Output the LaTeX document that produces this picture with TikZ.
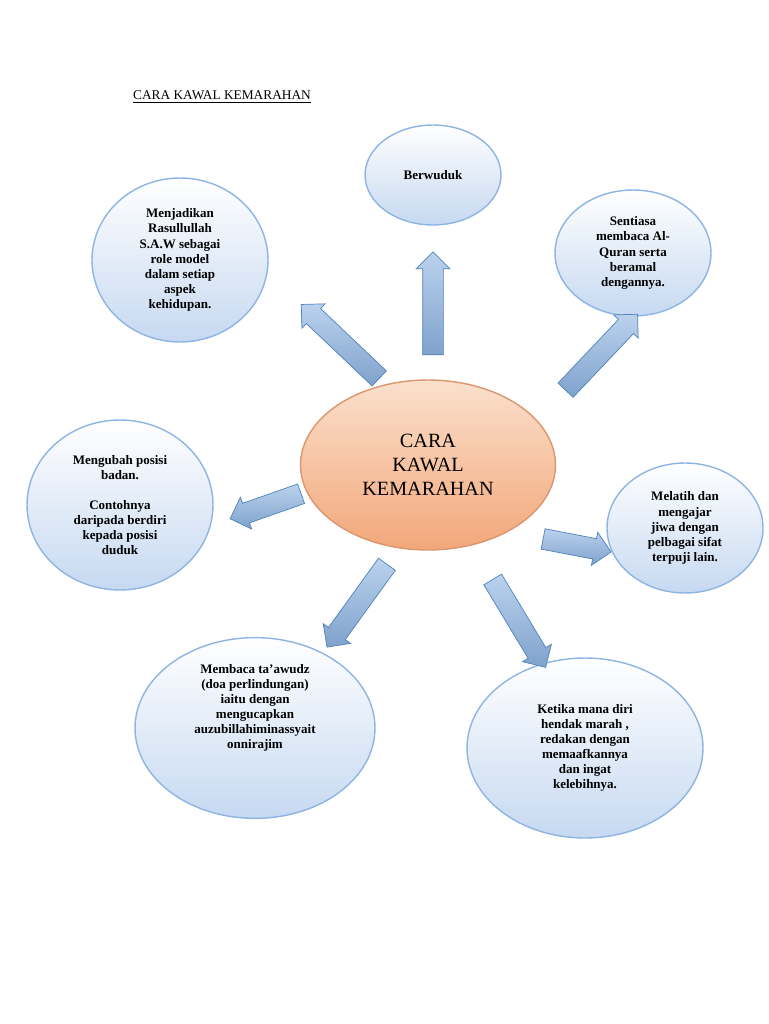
\documentclass[tikz,border=0pt]{standalone}
\usepackage{fontspec}
\setmainfont{Liberation Serif}
\usetikzlibrary{shapes.geometric,shapes.arrows,calc}
\definecolor{bubbleline}{HTML}{8EB4E3}
\definecolor{bubbletop}{HTML}{FFFFFF}
\definecolor{bubblebot}{HTML}{C6D9F1}
\definecolor{hubtop}{HTML}{FBE0CC}
\definecolor{hubbot}{HTML}{F2A77A}
\definecolor{arrowline}{HTML}{4F81BD}
\definecolor{arrowfill}{HTML}{8DB4E2}
\newcommand{\blockarrow}[3]{%
  \path let \p1=($(#3)-(#2)$), \n1={atan2(\y1,\x1)}, \n2={veclen(\x1,\y1)} in
    node (#1) [block, rotate=\n1, minimum height=\n2] at ($(#2)!0.5!(#3)$) {};}
\begin{document}
\begin{tikzpicture}
[ x=0.02cm, y=-0.02cm
, bubble/.style={ellipse, draw=bubbleline, thick, top color=bubbletop, bottom color=bubblebot, inner sep=0pt, align=center, font=\fontsize{7.4}{8.6}\selectfont\bfseries}
, hub/.style={ellipse, draw=hubbot!90!black, thick, top color=hubtop, bottom color=hubbot, inner sep=0pt, align=center, font=\fontsize{11.5}{13.5}\selectfont}
, block/.style={single arrow, draw=arrowline, top color=arrowfill!60, bottom color=arrowfill!90!black, inner xsep=0pt, inner ysep=0.2cm, text height=0pt, text depth=0pt, minimum width=0pt, single arrow head extend=0.13cm, single arrow head indent=0pt}
]
\useasboundingbox (0,0) rectangle (768,1024);
\node (title) at (222,97) {\fontsize{7.6}{9}\selectfont\underline{CARA KAWAL KEMARAHAN}};
% hub and bubbles
\node (hub) [hub, minimum width=5.1cm, minimum height=3.4cm] at (428,465) {CARA\\KAWAL\\KEMARAHAN};
\node (wuduk) [bubble, minimum width=2.72cm, minimum height=2cm] at (433,175) {Berwuduk};
\node (rasul) [bubble, minimum width=3.52cm, minimum height=3.28cm] at (180,260) {Menjadikan\\Rasullullah\\S.A.W sebagai\\role model\\dalam setiap\\aspek\\kehidupan.};
\node (quran) [bubble, minimum width=3.12cm, minimum height=2.52cm] at (633,253) {Sentiasa\\membaca Al-\\Quran serta\\beramal\\dengannya.};
\node (posisi) [bubble, minimum width=3.72cm, minimum height=3.4cm] at (120,505) {Mengubah posisi\\badan.\\[8.6pt]Contohnya\\daripada berdiri\\kepada posisi\\duduk};
\node (jiwa) [bubble, minimum width=3.12cm, minimum height=2.6cm] at (685,528) {Melatih dan\\mengajar\\jiwa dengan\\pelbagai sifat\\terpuji lain.};
\node (awudz) [bubble, minimum width=4.8cm, minimum height=3.6cm] at (255,728) {Membaca ta’awudz\\(doa perlindungan)\\iaitu dengan\\mengucapkan\\auzubillahiminassyait\\onnirajim\\[16pt]};
\node (maaf) [bubble, minimum width=4.72cm, minimum height=3.6cm] at (585,748) {Ketika mana diri\\hendak marah ,\\redakan dengan\\memaafkannya\\dan ingat\\kelebihnya.};
% arrow ends
\coordinate (t1) at (433,360); \coordinate (h1) at (433,257);
\coordinate (t2) at (383,382); \coordinate (h2) at (305,308);
\coordinate (t3) at (562,394); \coordinate (h3) at (634,318);
\coordinate (t4) at (306,492); \coordinate (h4) at (235,517);
\coordinate (t5) at (538,538); \coordinate (h5) at (606,551);
\coordinate (t6) at (390,560); \coordinate (h6) at (330,643);
\coordinate (t7) at (490,575); \coordinate (h7) at (543,663);
\blockarrow{a1}{t1}{h1}
\blockarrow{a2}{t2}{h2}
\blockarrow{a3}{t3}{h3}
\blockarrow{a4}{t4}{h4}
\blockarrow{a5}{t5}{h5}
\blockarrow{a6}{t6}{h6}
\blockarrow{a7}{t7}{h7}
\end{tikzpicture}
\end{document}
